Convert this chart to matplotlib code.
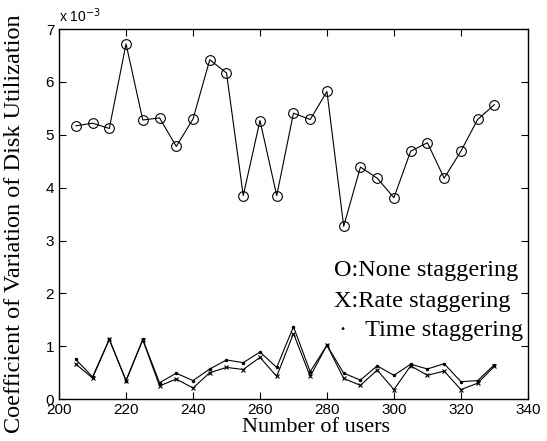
import matplotlib
matplotlib.use('Agg')
import matplotlib.pyplot as plt

users = [205, 210, 215, 220, 225, 230, 235, 240, 245, 250, 255, 260, 265,
         270, 275, 280, 285, 290, 295, 300, 305, 310, 315, 320, 325, 330]

# values in units of 1e-3
none_stag = [5.17, 5.22, 5.12, 6.72, 5.28, 5.32, 4.78, 5.30, 6.42, 6.17, 3.85, 5.27, 3.85,
             5.41, 5.29, 5.82, 3.27, 4.39, 4.18, 3.81, 4.69, 4.85, 4.18, 4.69, 5.29, 5.57]
rate_stag = [0.66, 0.40, 1.13, 0.35, 1.12, 0.25, 0.38, 0.21, 0.50, 0.60, 0.56, 0.79, 0.43,
             1.24, 0.43, 1.02, 0.39, 0.26, 0.55, 0.18, 0.63, 0.45, 0.53, 0.18, 0.30, 0.62]
time_stag = [0.75, 0.42, 1.13, 0.35, 1.13, 0.31, 0.49, 0.35, 0.57, 0.74, 0.69, 0.89, 0.60,
             1.37, 0.52, 1.02, 0.49, 0.36, 0.63, 0.45, 0.66, 0.57, 0.67, 0.33, 0.35, 0.65]

x_ticks = [200, 220, 240, 260, 280, 300, 320, 340]
y_ticks = [0, 1, 2, 3, 4, 5, 6, 7]

serif = 'Liberation Serif'
sans = 'Liberation Sans'

fig = plt.figure(figsize=(5.47, 4.41), dpi=100)
ax = fig.add_axes([0.108, 0.095, 0.857, 0.839])

ax.plot(users, none_stag, color='black', lw=0.8, marker='o', ms=7,
        mfc='none', mec='black', mew=0.8)
ax.plot(users, rate_stag, color='black', lw=0.8, marker='x', ms=3.5, mew=0.8)
ax.plot(users, time_stag, color='black', lw=0.8, marker='.', ms=3)

ax.set_xlim(200, 340)
ax.set_ylim(0, 7)
ax.set_xticks(x_ticks)
ax.set_yticks(y_ticks)
ax.set_xticklabels([str(t) for t in x_ticks], fontfamily=sans, fontsize=11)
ax.set_yticklabels([str(t) for t in y_ticks], fontfamily=sans, fontsize=11)
ax.tick_params(direction='in', top=True, right=True, length=5, width=0.8)
ax.tick_params(axis='x', pad=3)
for s in ax.spines.values():
    s.set_linewidth(1.0)

ax.set_xlabel('Number of users', fontfamily=serif, fontsize=16)
ax.xaxis.set_label_coords(0.548, -0.05)
ax.set_ylabel('Coefficient of Variation of Disk Utilization', fontfamily=serif,
              fontsize=17.5)
ax.yaxis.set_label_coords(-0.072, 0.475)

ax.text(0.0, 1.012, r'x 10$^{-3}$', transform=ax.transAxes, fontfamily=sans,
        fontsize=10, ha='left', va='bottom')

ax.text(282, 2.44, 'O:None staggering', fontfamily=serif, fontsize=17.5, va='center')
ax.text(282, 1.85, 'X:Rate staggering', fontfamily=serif, fontsize=17.5, va='center')
ax.text(283.5, 1.30, '\u00b7   Time staggering', fontfamily=serif, fontsize=17.5, va='center')

fig.savefig('out.png', dpi=100)
